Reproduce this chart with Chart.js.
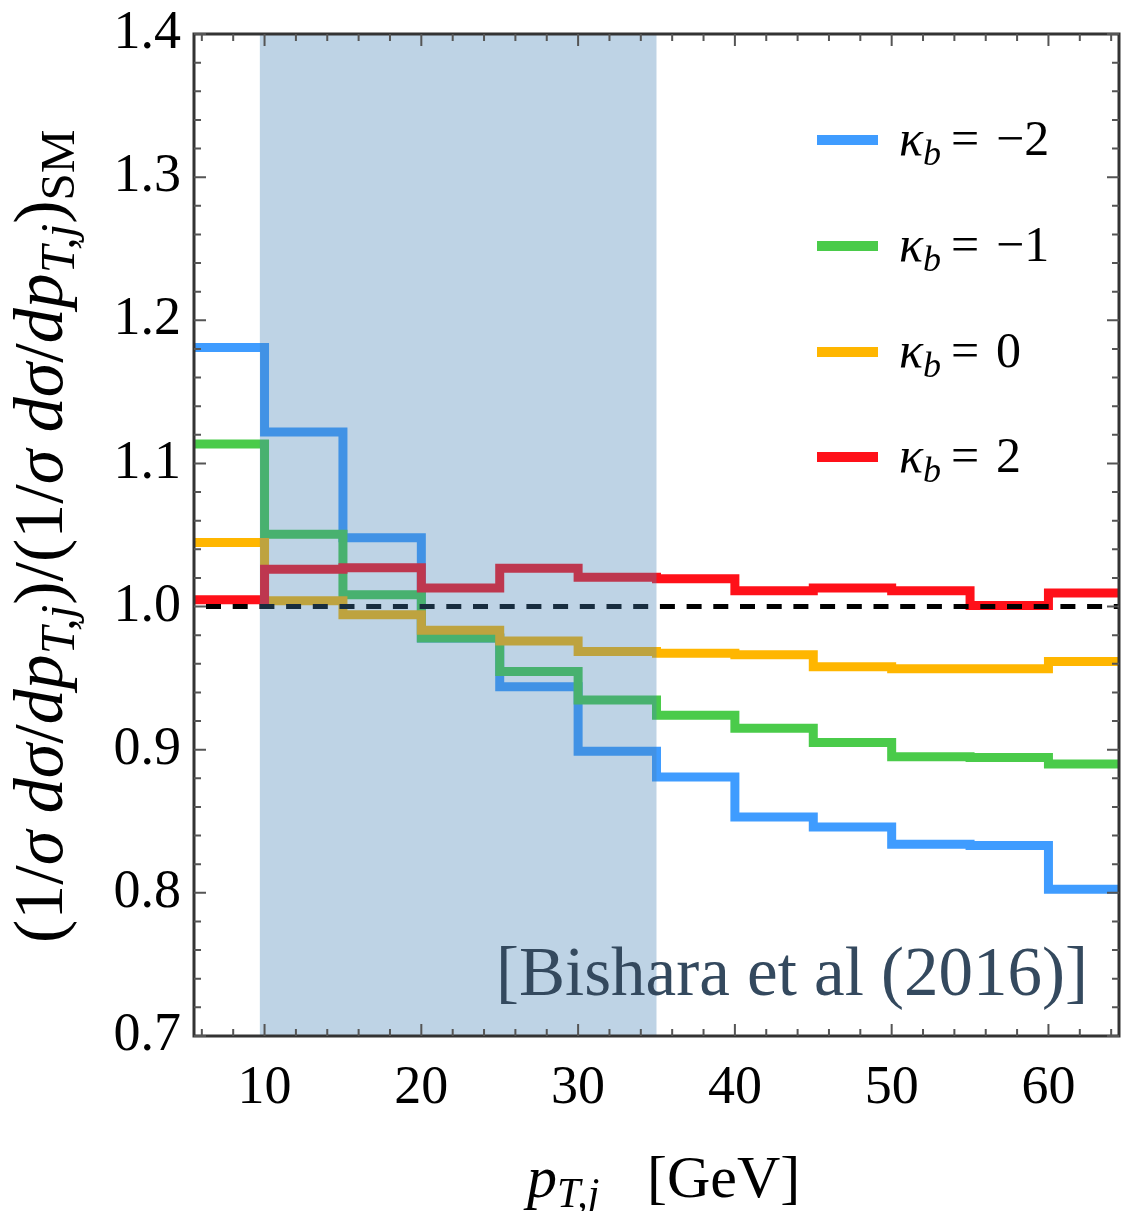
<!DOCTYPE html>
<html>
<head>
<meta charset="utf-8">
<script src="https://cdn.jsdelivr.net/npm/chart.js@4.4.1/dist/chart.umd.min.js"></script>
<style>
  html, body { margin: 0; padding: 0; background: #fff; }
  #wrap { width: 1132px; height: 1211px; }
</style>
</head>
<body>
<div id="wrap"><canvas id="myChart"></canvas></div>
<script>
// left edges of the pT bins (GeV); the first bin runs in from the plot edge
const binEdges = [5, 10, 15, 20, 25, 30, 35, 40, 45, 50, 55, 60];
const lastEdge = 65;

const kbMinus2 = [1.181, 1.122, 1.048, 0.978, 0.944, 0.899, 0.881, 0.853, 0.846, 0.834, 0.833, 0.8025];
const kbMinus1 = [1.1135, 1.0506, 1.0082, 0.978, 0.9546, 0.9348, 0.924, 0.915, 0.905, 0.895, 0.8945, 0.890];
const kbZero   = [1.0447, 1.004, 0.9942, 0.9835, 0.976, 0.9686, 0.9674, 0.9663, 0.958, 0.9565, 0.9565, 0.9616];
const kbPlus2  = [1.0047, 1.0261, 1.0272, 1.0129, 1.0268, 1.0205, 1.0194, 1.011, 1.0129, 1.011, 1.0007, 1.0094];

const seriesLabels = ['\u22122', '\u22121', '0', '2'];
const seriesColors = ['#3f9cff', '#4acb4a', '#ffb600', '#ff1019'];

const xTicks = [10, 20, 30, 40, 50, 60];
const yTicks = [0.7, 0.8, 0.9, 1.0, 1.1, 1.2, 1.3, 1.4];
const bandRange = [9.7, 35];

function stepPoints(vals) {
    let pts = [];
    for (let i = 0; i < binEdges.length; i++) {
        pts.push({x: binEdges[i], y: vals[i]});
    }
    pts.push({x: lastEdge, y: vals[vals.length - 1]});
    return pts;
}

const allSeries = [kbMinus2, kbMinus1, kbZero, kbPlus2];
const datasets = allSeries.map(function(vals, i) {
    return {
        label: 'kb = ' + seriesLabels[i],
        data: stepPoints(vals),
        borderColor: seriesColors[i],
        borderWidth: 9,
        stepped: 'before',
        pointRadius: 0,
        fill: false,
        clip: 0,
        order: 4 - i
    };
});

const SERIF = '"Liberation Serif", "Times New Roman", serif';

// draw a run of text pieces: [text, italic, sizeFactor, dy]
function drawRuns(ctx, runs, x, y, size) {
    let cx = x;
    runs.forEach(function(r) {
        ctx.font = (r[1] ? 'italic ' : '') + Math.round(size * r[2]) + 'px ' + SERIF;
        ctx.fillText(r[0], cx, y + r[3] * size);
        cx += ctx.measureText(r[0]).width;
    });
    return cx - x;
}
function runsWidth(ctx, runs, size) {
    let w = 0;
    runs.forEach(function(r) {
        ctx.font = (r[1] ? 'italic ' : '') + Math.round(size * r[2]) + 'px ' + SERIF;
        w += ctx.measureText(r[0]).width;
    });
    return w;
}

const decorPlugin = {
    id: 'decor',
    afterDatasetsDraw(chart) {
        const ctx = chart.ctx;
        const a = chart.chartArea;
        const xs = chart.scales.x, ys = chart.scales.y;

        // reference line at 1
        ctx.save();
        ctx.strokeStyle = '#000';
        ctx.lineWidth = 5;
        ctx.setLineDash([15, 11.7]);
        ctx.lineDashOffset = -12;
        const y1 = ys.getPixelForValue(1.0);
        ctx.beginPath();
        ctx.moveTo(a.left, y1);
        ctx.lineTo(a.right, y1);
        ctx.stroke();
        ctx.restore();

        // shaded band, drawn over the curves
        ctx.save();
        ctx.fillStyle = 'rgba(70,130,180,0.35)';
        const bx0 = xs.getPixelForValue(bandRange[0]);
        const bx1 = xs.getPixelForValue(bandRange[1]);
        ctx.fillRect(bx0, a.top, bx1 - bx0, a.bottom - a.top);
        ctx.restore();

        // frame
        ctx.save();
        ctx.strokeStyle = '#333';
        ctx.lineWidth = 3;
        ctx.strokeRect(a.left, a.top, a.right - a.left, a.bottom - a.top);

        // inward ticks on all four sides
        ctx.strokeStyle = '#555';
        ctx.lineWidth = 2;
        ctx.beginPath();
        for (let v = 6; v <= 64; v += 2) {
            const px = xs.getPixelForValue(v);
            const len = (v % 10 === 0) ? 12 : 7;
            ctx.moveTo(px, a.bottom); ctx.lineTo(px, a.bottom - len);
            ctx.moveTo(px, a.top); ctx.lineTo(px, a.top + len);
        }
        for (let k = 35; k <= 70; k++) {
            const v = k / 50;
            const py = ys.getPixelForValue(v);
            const len = (k % 5 === 0) ? 12 : 7;
            ctx.moveTo(a.left, py); ctx.lineTo(a.left + len, py);
            ctx.moveTo(a.right, py); ctx.lineTo(a.right - len, py);
        }
        ctx.stroke();
        ctx.restore();

        // legend
        ctx.save();
        const legY = [140, 246, 352, 457];
        ctx.fillStyle = '#000';
        ctx.textBaseline = 'alphabetic';
        for (let i = 0; i < 4; i++) {
            ctx.strokeStyle = seriesColors[i];
            ctx.lineWidth = 10;
            ctx.beginPath();
            ctx.moveTo(817, legY[i]);
            ctx.lineTo(878, legY[i]);
            ctx.stroke();
            const base = legY[i] + 15;
            drawRuns(ctx, [['\u03ba', true, 1, 0], ['b', true, 0.72, 0.2]], 899, base, 50);
            ctx.font = '50px ' + SERIF;
            ctx.fillText('=', 951, base);
            ctx.fillText(seriesLabels[i], 996, base);
        }
        ctx.restore();

        // citation
        ctx.save();
        ctx.fillStyle = '#34495e';
        ctx.textBaseline = 'alphabetic';
        const cite = '[Bishara et al (2016)]';
        ctx.font = '60px ' + SERIF;
        const cw = ctx.measureText(cite).width;
        const cs = 60 * 592 / cw;
        ctx.font = cs.toFixed(1) + 'px ' + SERIF;
        ctx.fillText(cite, 496, 995);
        ctx.restore();
    },
    afterDraw(chart) {
        const ctx = chart.ctx;
        ctx.save();
        ctx.fillStyle = '#000';
        ctx.textBaseline = 'alphabetic';

        // x axis title
        drawRuns(ctx, [['p', true, 1, 0], ['T,j', true, 0.7, 0.17]], 527, 1197, 60);
        ctx.font = '60px ' + SERIF;
        ctx.fillText('[GeV]', 647, 1197);

        // y axis title, rotated
        const yRuns = [
            ['(1/', false, 1, 0], ['\u03c3 d\u03c3', true, 1, 0], ['/', false, 1, 0],
            ['dp', true, 1, 0], ['T,j', true, 0.7, 0.17],
            [')/(1/', false, 1, 0], ['\u03c3 d\u03c3', true, 1, 0], ['/', false, 1, 0],
            ['dp', true, 1, 0], ['T,j', true, 0.7, 0.17], [')', false, 1, 0],
            ['SM', false, 0.7, 0.17]
        ];
        let size = 52;
        size = size * 816 / runsWidth(ctx, yRuns, size);
        ctx.translate(62, 943);
        ctx.rotate(-Math.PI / 2);
        drawRuns(ctx, yRuns, 0, 0, size);
        ctx.restore();
    }
};

new Chart(document.getElementById('myChart'), {
    type: 'line',
    data: { datasets: datasets },
    options: {
        responsive: true,
        maintainAspectRatio: false,
        animation: false,
        events: [],
        layout: { padding: { left: 0, right: 13, top: 34, bottom: 0 } },
        plugins: {
            legend: { display: false },
            tooltip: { enabled: false }
        },
        scales: {
            x: {
                type: 'linear',
                min: 5.5,
                max: 64.5,
                afterFit: function(s) { s.height = 175; s.paddingLeft = 0; s.paddingRight = 0; },
                afterBuildTicks: function(s) { s.ticks = xTicks.map(v => ({value: v})); },
                grid: { display: false, drawTicks: false },
                border: { display: false },
                ticks: {
                    padding: 20,
                    color: '#000',
                    font: { family: SERIF, size: 54 },
                    maxRotation: 0,
                    autoSkip: false
                }
            },
            y: {
                min: 0.7,
                max: 1.4,
                afterFit: function(s) { s.width = 194; s.paddingTop = 0; s.paddingBottom = 0; },
                afterBuildTicks: function(s) { s.ticks = yTicks.map(v => ({value: v})); },
                grid: { display: false, drawTicks: false },
                border: { display: false },
                ticks: {
                    padding: 13,
                    color: '#000',
                    font: { family: SERIF, size: 54 },
                    callback: function(v) { return v.toFixed(1); },
                    autoSkip: false
                }
            }
        }
    },
    plugins: [decorPlugin]
});
</script>
</body>
</html>
